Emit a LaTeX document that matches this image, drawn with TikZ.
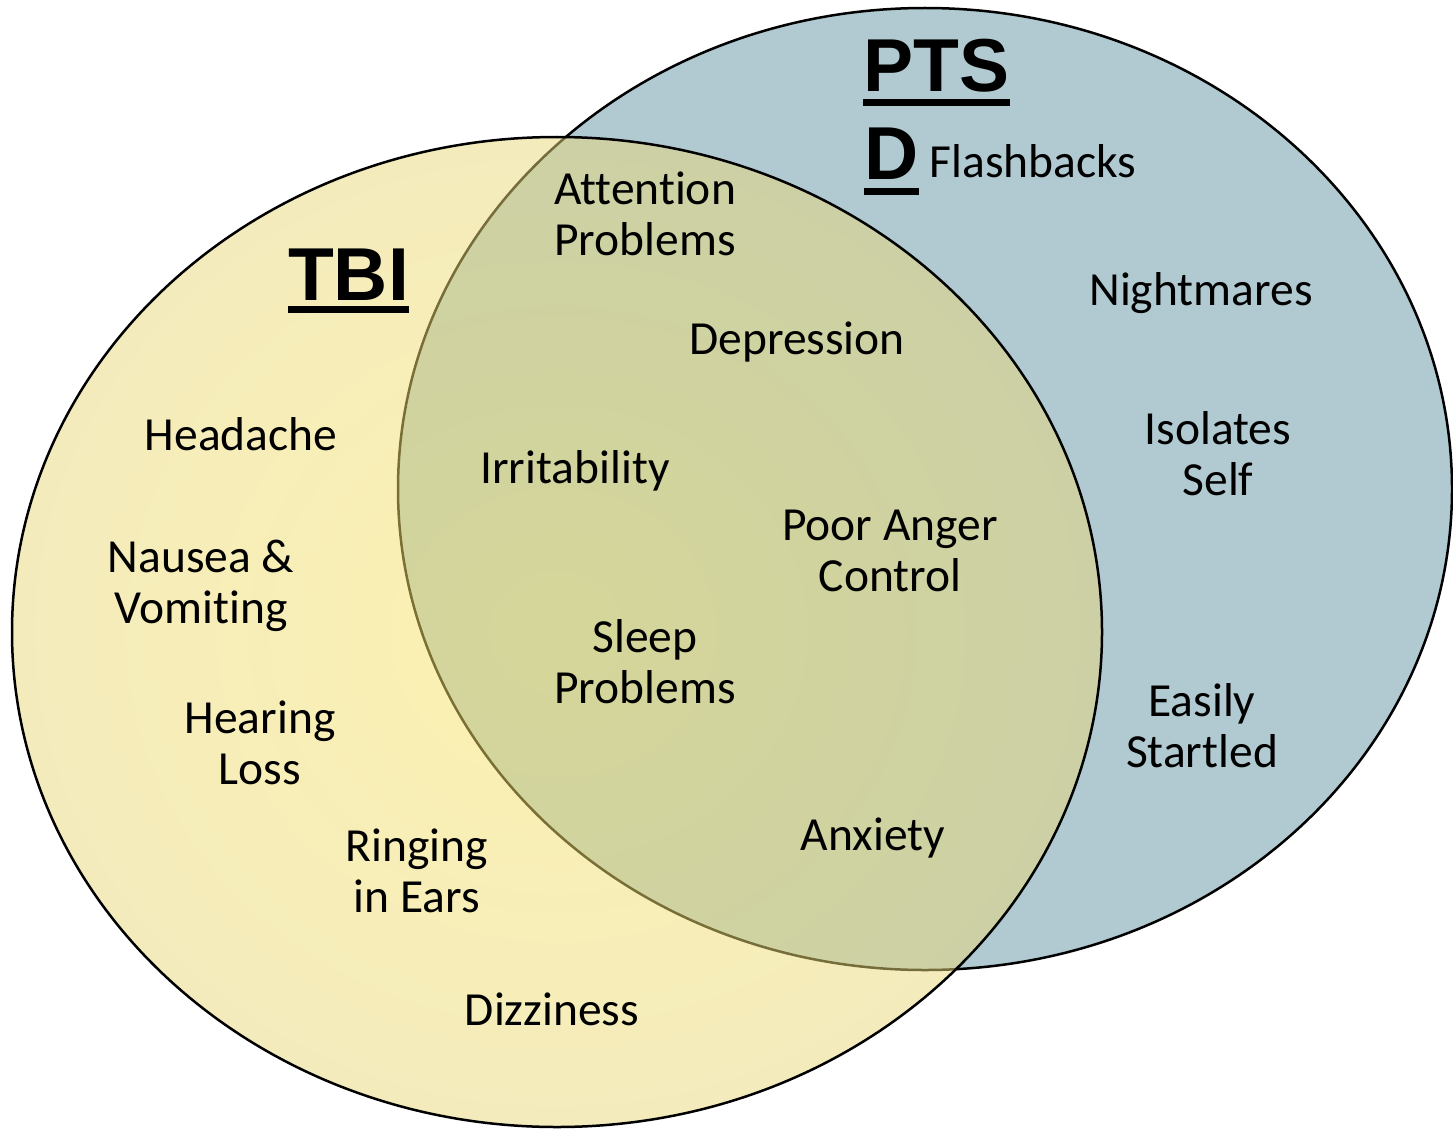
\documentclass[tikz,border=0pt]{standalone}
\usepackage{fontspec}
\setmainfont[Ligatures={NoCommon,NoRequired},Contextuals=NoAlternate]{Carlito}
\newfontfamily\headfont{Liberation Sans}
\usetikzlibrary{calc}
\definecolor{ptsdblue}{RGB}{177,201,208}
\definecolor{tbiouter}{RGB}{232,216,122}
\definecolor{tbiinner}{RGB}{250,228,100}
\tikzset{
  lbl/.style={anchor=base, inner sep=0pt, align=center, font=\fontsize{47.5}{51}\selectfont},
  head/.style={anchor=base, inner sep=0pt, font=\headfont\bfseries\fontsize{75}{80}\selectfont},
  outline/.style={line width=2.5pt, draw=black}
}
\begin{document}
\begin{tikzpicture}[x=1pt,y=-1pt]
\useasboundingbox (0,0) rectangle (1453,1129);
% PTSD ellipse
\fill[ptsdblue] (925,489) ellipse [x radius=527, y radius=481];
\draw[outline] (925,489) ellipse [x radius=527, y radius=481];
% TBI ellipse (semi-transparent)
\shade[inner color=tbiinner, outer color=tbiouter, fill opacity=0.5] (557,632) ellipse [x radius=545, y radius=495];
\draw[outline] (557,632) ellipse [x radius=545, y radius=495];

% Headings
\node[head] (tbi) at (348.5,300) {TBI};
\fill ($(tbi.base west)+(0,6)$) rectangle ($(tbi.base east)+(0,13)$);
\node[head] (pts) at (936.5,92) {PTS};
\fill ($(pts.base west)+(0,7)$) rectangle ($(pts.base east)+(0,14)$);
\node[head] (d) at (891.5,179) {D};
\fill ($(d.base west)+(0,9)$) rectangle ($(d.base east)+(0,16)$);

% TBI only (multi-line nodes anchored at last line's baseline)
\node[lbl] (headache) at (241,450) {Headache};
\node[lbl] (nausea) at (201,623) {Nausea \&\\Vomiting};
\node[lbl] (hearing) at (260,784) {Hearing\\Loss};
\node[lbl] (ringing) at (417,912) {Ringing\\in Ears};
\node[lbl] (dizzy) at (552,1025) {Dizziness};

% Overlap
\node[lbl] (attention) at (645,255) {Attention\\Problems};
\node[lbl] (depression) at (797,354) {Depression};
\node[lbl] (irrit) at (575,483) {Irritability};
\node[lbl] (anger) at (890,591) {Poor Anger\\Control};
\node[lbl] (sleep) at (645,703) {Sleep\\Problems};
\node[lbl] (anxiety) at (873,850) {Anxiety};

% PTSD only
\node[lbl] (flash) at (1033,177) {Flashbacks};
\node[lbl] (nightmares) at (1201,305) {Nightmares};
\node[lbl] (isolates) at (1218,495) {Isolates\\Self};
\node[lbl] (startled) at (1202,767) {Easily\\Startled};
\end{tikzpicture}
\end{document}
